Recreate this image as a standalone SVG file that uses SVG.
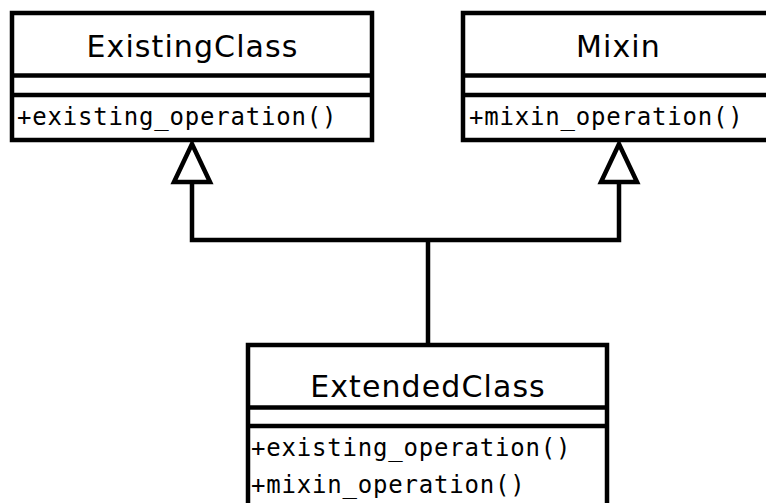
<svg xmlns="http://www.w3.org/2000/svg" width="766" height="503" viewBox="0 0 766 503">
  <style>
    .box { fill: #ffffff; stroke: #000000; stroke-width: 4.5; }
    .sep { stroke: #000000; stroke-width: 4.5; }
    .title { font-family: "DejaVu Sans", sans-serif; font-size: 30px; letter-spacing: 1.1px; fill: #000000; text-anchor: middle; }
    .op { font-family: "DejaVu Sans Mono", monospace; font-size: 24px; letter-spacing: 0.8px; fill: #000000; }
    .edge { fill: none; stroke: #000000; stroke-width: 4.5; }
    .head { fill: #ffffff; stroke: #000000; stroke-width: 4.5; stroke-linejoin: miter; }
  </style>

  <g id="ExistingClass">
    <rect class="box" x="12" y="13" width="360" height="127"/>
    <line class="sep" x1="12" y1="75.5" x2="372" y2="75.5"/>
    <line class="sep" x1="12" y1="95" x2="372" y2="95"/>
    <text class="title" x="192.5" y="57">ExistingClass</text>
    <text class="op" x="17" y="125">+existing_operation()</text>
  </g>

  <g id="Mixin">
    <rect class="box" x="463" y="13" width="312" height="127"/>
    <line class="sep" x1="463" y1="75.5" x2="775" y2="75.5"/>
    <line class="sep" x1="463" y1="95" x2="775" y2="95"/>
    <text class="title" x="618.5" y="57">Mixin</text>
    <text class="op" x="469" y="125">+mixin_operation()</text>
  </g>

  <g id="ExtendedClass">
    <rect class="box" x="248" y="345" width="359" height="170"/>
    <line class="sep" x1="248" y1="407.5" x2="607" y2="407.5"/>
    <line class="sep" x1="248" y1="426" x2="607" y2="426"/>
    <text class="title" x="428" y="397">ExtendedClass</text>
    <text class="op" x="251" y="456">+existing_operation()</text>
    <text class="op" x="251" y="493">+mixin_operation()</text>
  </g>

  <g id="connectors">
    <polyline class="edge" points="428,345 428,240"/>
    <polyline class="edge" points="192,182 192,240 619,240 619,182"/>
    <polygon class="head" points="192,144 174,182 210,182"/>
    <polygon class="head" points="619,144 601,182 637,182"/>
  </g>
</svg>
